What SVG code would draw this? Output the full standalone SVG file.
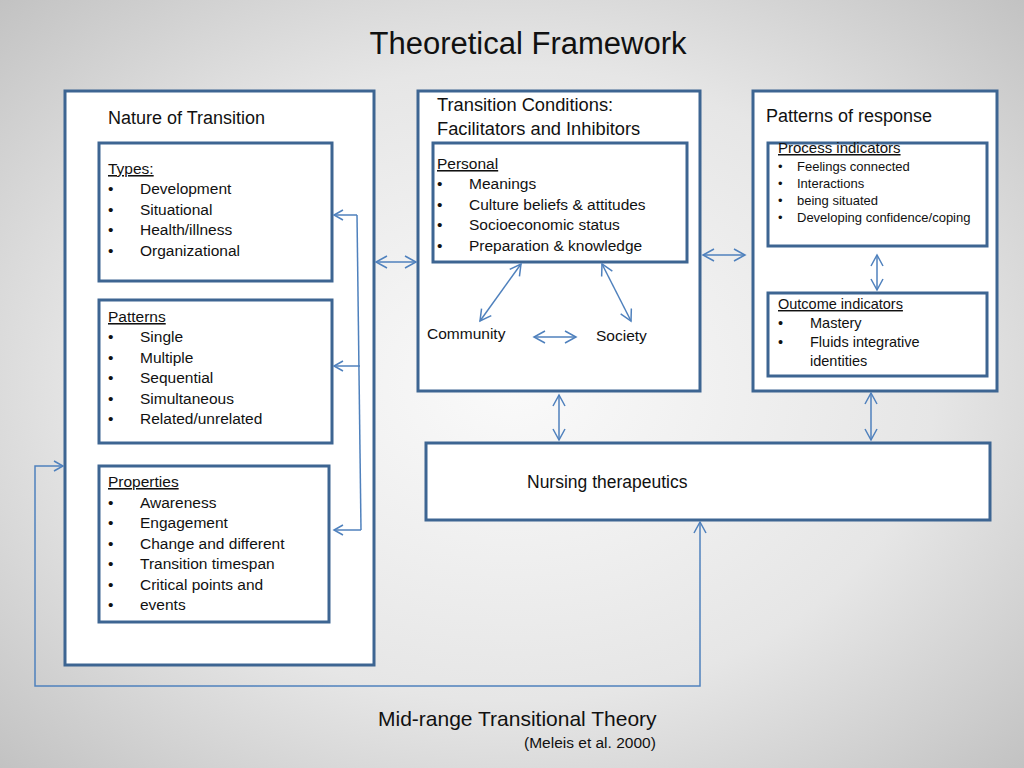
<svg xmlns="http://www.w3.org/2000/svg" width="1024" height="768" viewBox="0 0 1024 768">
<defs>
<radialGradient id="bg" cx="0.5" cy="0.5" r="0.75">
<stop offset="0" stop-color="#fafafa"/>
<stop offset="0.55" stop-color="#e6e6e6"/>
<stop offset="1" stop-color="#bdbdbd"/>
</radialGradient>
<marker id="ah" markerWidth="12" markerHeight="12" refX="10" refY="6" orient="auto-start-reverse" markerUnits="userSpaceOnUse">
<path d="M1,1 L10,6 L1,11" fill="none" stroke="#4f81bd" stroke-width="1.5"/>
</marker>
<marker id="ahs" markerWidth="14" markerHeight="14" refX="12" refY="7" orient="auto-start-reverse" markerUnits="userSpaceOnUse">
<path d="M1,1 L12,7 L1,13" fill="none" stroke="#4f81bd" stroke-width="1.5"/>
</marker>
</defs>
<style>
.box{fill:#ffffff;stroke:#3d6592;stroke-width:3}
.t{font-family:"Liberation Sans",Arial,sans-serif;fill:#111;}
.h{font-size:18px}
.s{font-size:15.5px}
.xs{font-size:13px}
.u{text-decoration:underline}
.c{fill:none;stroke:#4f81bd;stroke-width:1.5}
.d{marker-start:url(#ahs);marker-end:url(#ahs)}
</style>
<rect width="1024" height="768" fill="url(#bg)"/>
<text class="t" x="528" y="54" font-size="31" text-anchor="middle">Theoretical Framework</text>

<g id="nature">
<rect class="box" x="65" y="91" width="309" height="574"/>
<text class="t h" x="108" y="124">Nature of Transition</text>
</g>
<g id="types">
<rect class="box" x="99" y="143" width="233" height="138"/>
<text class="t s"><tspan class="u" x="108" y="174">Types:</tspan>
<tspan x="108" y="194">•</tspan><tspan x="140" y="194">Development</tspan>
<tspan x="108" y="215">•</tspan><tspan x="140" y="215">Situational</tspan>
<tspan x="108" y="235">•</tspan><tspan x="140" y="235">Health/illness</tspan>
<tspan x="108" y="256">•</tspan><tspan x="140" y="256">Organizational</tspan></text>
</g>
<g id="patterns">
<rect class="box" x="99" y="300" width="233" height="143"/>
<text class="t s"><tspan class="u" x="108" y="322">Patterns</tspan>
<tspan x="108" y="342">•</tspan><tspan x="140" y="342">Single</tspan>
<tspan x="108" y="363">•</tspan><tspan x="140" y="363">Multiple</tspan>
<tspan x="108" y="383">•</tspan><tspan x="140" y="383">Sequential</tspan>
<tspan x="108" y="404">•</tspan><tspan x="140" y="404">Simultaneous</tspan>
<tspan x="108" y="424">•</tspan><tspan x="140" y="424">Related/unrelated</tspan></text>
</g>
<g id="properties">
<rect class="box" x="99" y="466" width="230" height="156"/>
<text class="t s"><tspan class="u" x="108" y="487">Properties</tspan>
<tspan x="108" y="508">•</tspan><tspan x="140" y="508">Awareness</tspan>
<tspan x="108" y="528">•</tspan><tspan x="140" y="528">Engagement</tspan>
<tspan x="108" y="549">•</tspan><tspan x="140" y="549">Change and different</tspan>
<tspan x="108" y="569">•</tspan><tspan x="140" y="569">Transition timespan</tspan>
<tspan x="108" y="590">•</tspan><tspan x="140" y="590">Critical points and</tspan>
<tspan x="108" y="610">•</tspan><tspan x="140" y="610">events</tspan></text>
</g>

<g id="conditions">
<rect class="box" x="418" y="91" width="282" height="300"/>
<text class="t" font-size="18.3"><tspan x="437" y="111">Transition Conditions:</tspan><tspan x="437" y="135">Facilitators and Inhibitors</tspan></text>
<text class="t s" x="427" y="339">Community</text>
<text class="t s" x="596" y="341">Society</text>
</g>
<g id="personal">
<rect class="box" x="433" y="143" width="254" height="119"/>
<text class="t s"><tspan class="u" x="437" y="169">Personal</tspan>
<tspan x="437" y="189">•</tspan><tspan x="469" y="189">Meanings</tspan>
<tspan x="437" y="210">•</tspan><tspan x="469" y="210">Culture beliefs &amp; attitudes</tspan>
<tspan x="437" y="230">•</tspan><tspan x="469" y="230">Socioeconomic status</tspan>
<tspan x="437" y="251">•</tspan><tspan x="469" y="251">Preparation &amp; knowledge</tspan></text>
</g>

<g id="response">
<rect class="box" x="753" y="91" width="244" height="300"/>
<text class="t h" x="766" y="122">Patterns of response</text>
</g>
<g id="process">
<rect class="box" x="768" y="143" width="219" height="103"/>
<text class="t" font-size="15"><tspan class="u" x="778" y="153">Process indicators</tspan></text>
<text class="t xs"><tspan x="778" y="171">•</tspan><tspan x="797" y="171">Feelings connected</tspan>
<tspan x="778" y="188">•</tspan><tspan x="797" y="188">Interactions</tspan>
<tspan x="778" y="205">•</tspan><tspan x="797" y="205">being situated</tspan>
<tspan x="778" y="222">•</tspan><tspan x="797" y="222">Developing confidence/coping</tspan></text>
</g>
<g id="outcome">
<rect class="box" x="768" y="293" width="219" height="83"/>
<text class="t" font-size="14.5"><tspan class="u" x="778" y="309">Outcome indicators</tspan>
<tspan x="778" y="328">•</tspan><tspan x="810" y="328">Mastery</tspan>
<tspan x="778" y="347">•</tspan><tspan x="810" y="347">Fluids integrative</tspan>
<tspan x="810" y="366">identities</tspan></text>
</g>

<g id="nursing">
<rect class="box" x="426" y="443" width="564" height="77"/>
<text class="t" font-size="17.5" x="527" y="488">Nursing therapeutics</text>
</g>

<g id="connectors">
<path class="c" d="M357,215 L361,530"/>
<path class="c" d="M357,215 L334,215" marker-end="url(#ah)"/>
<path class="c" d="M360,366 L334,366" marker-end="url(#ah)"/>
<path class="c" d="M361,530 L334,530" marker-end="url(#ah)"/>
<path class="c d" d="M376,262 L416,262"/>
<path class="c d" d="M703,255 L745,255"/>
<path class="c d" d="M521,264 L480,321"/>
<path class="c d" d="M602,264 L631,321"/>
<path class="c d" d="M534,337 L576,337"/>
<path class="c d" d="M559,395 L559,440"/>
<path class="c d" d="M871,393 L871,440"/>
<path class="c d" d="M877,255 L877,290"/>
<path class="c" d="M700,522 L700,686 L35,686 L35,466 L63,466" marker-start="url(#ahs)" marker-end="url(#ah)"/>
</g>

<text class="t" x="378" y="726" font-size="21">Mid-range Transitional Theory</text>
<text class="t" x="524" y="748" font-size="15.5">(Meleis et al. 2000)</text>
</svg>
